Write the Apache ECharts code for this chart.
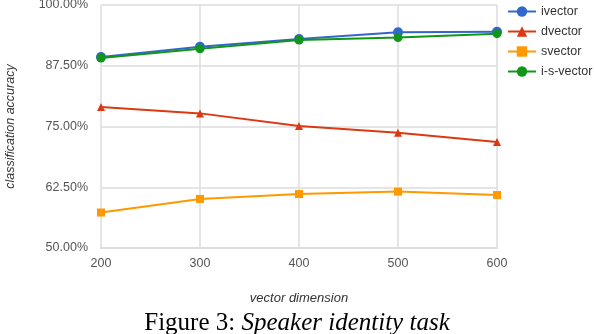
<!DOCTYPE html>
<html>
<head>
<meta charset="utf-8">
<script src="https://cdn.jsdelivr.net/npm/echarts@6/dist/echarts.min.js"></script>
<style>
  html, body { margin: 0; padding: 0; background: #fff; }
  #chart { width: 594px; height: 334px; }
</style>
</head>
<body>
<div id="chart"></div>
<script>
// vector dimension
var dims = ['200', '300', '400', '500', '600'];
// classification accuracy (%)
var ivector = [89.3, 91.4, 93.0, 94.4, 94.5];
var dvector = [79.0, 77.7, 75.1, 73.7, 71.8];
var svector = [57.3, 60.1, 61.1, 61.6, 60.9];
var isvector = [89.1, 91.0, 92.8, 93.3, 94.1];

var chart = echarts.init(document.getElementById('chart'));

function mkSeries(name, data, color, symbol, size) {
  return {
    name: name,
    type: 'line',
    data: data,
    symbol: symbol,
    symbolSize: size,
    lineStyle: { color: color, width: 2 },
    itemStyle: { color: color },
    animation: false
  };
}

var option = {
  backgroundColor: '#fff',
  title: {
    text: '{n|Figure 3: }{i|Speaker identity task}',
    left: 'center',
    top: 311,
    padding: 0,
    textStyle: {
      fontWeight: 'normal',
      rich: {
        n: { fontFamily: 'Liberation Serif', fontSize: 25, fontWeight: 'normal', color: '#000' },
        i: { fontFamily: 'Liberation Serif', fontSize: 25, fontWeight: 'normal', fontStyle: 'italic', color: '#000' }
      }
    }
  },
  legend: {
    orient: 'vertical',
    left: 507,
    top: 5,
    padding: 0,
    itemGap: 7,
    itemWidth: 28,
    itemHeight: 13,
    textStyle: { fontFamily: 'Liberation Sans', fontSize: 12.5, color: '#333' },
    data: ['ivector', 'dvector', 'svector', 'i-s-vector']
  },
  grid: { left: 101, right: 97, top: 5, bottom: 86, outerBoundsMode: 'none', containLabel: false },
  xAxis: {
    type: 'category',
    data: dims,
    boundaryGap: false,
    name: 'vector dimension',
    nameLocation: 'middle',
    nameGap: 44,
    nameTextStyle: { fontFamily: 'Liberation Sans', fontSize: 13, fontStyle: 'italic', color: '#333' },
    axisLine: { lineStyle: { color: '#ddd', width: 2 } },
    axisTick: { show: false },
    axisLabel: { fontFamily: 'Liberation Sans', fontSize: 12.5, color: '#555', margin: 9 },
    splitLine: { show: true, lineStyle: { color: '#ddd', width: 1.5 } }
  },
  yAxis: {
    type: 'value',
    min: 50,
    max: 100,
    interval: 12.5,
    name: 'classification accuracy',
    nameLocation: 'middle',
    nameGap: 84,
    nameTextStyle: { fontFamily: 'Liberation Sans', fontSize: 12.5, fontStyle: 'italic', color: '#333' },
    axisLine: { show: false },
    axisTick: { show: false },
    axisLabel: {
      fontFamily: 'Liberation Sans', fontSize: 12.5, color: '#555', margin: 13,
      formatter: function (v) { return v.toFixed(2) + '%'; }
    },
    splitLine: { lineStyle: { color: '#ddd', width: 1.5 } }
  },
  series: [
    mkSeries('ivector', ivector, '#3366cc', 'circle', 10),
    mkSeries('dvector', dvector, '#dc3912', 'triangle', 8),
    mkSeries('svector', svector, '#ff9900', 'rect', 8),
    mkSeries('i-s-vector', isvector, '#109618', 'circle', 9)
  ]
};
chart.setOption(option);
</script>
</body>
</html>
